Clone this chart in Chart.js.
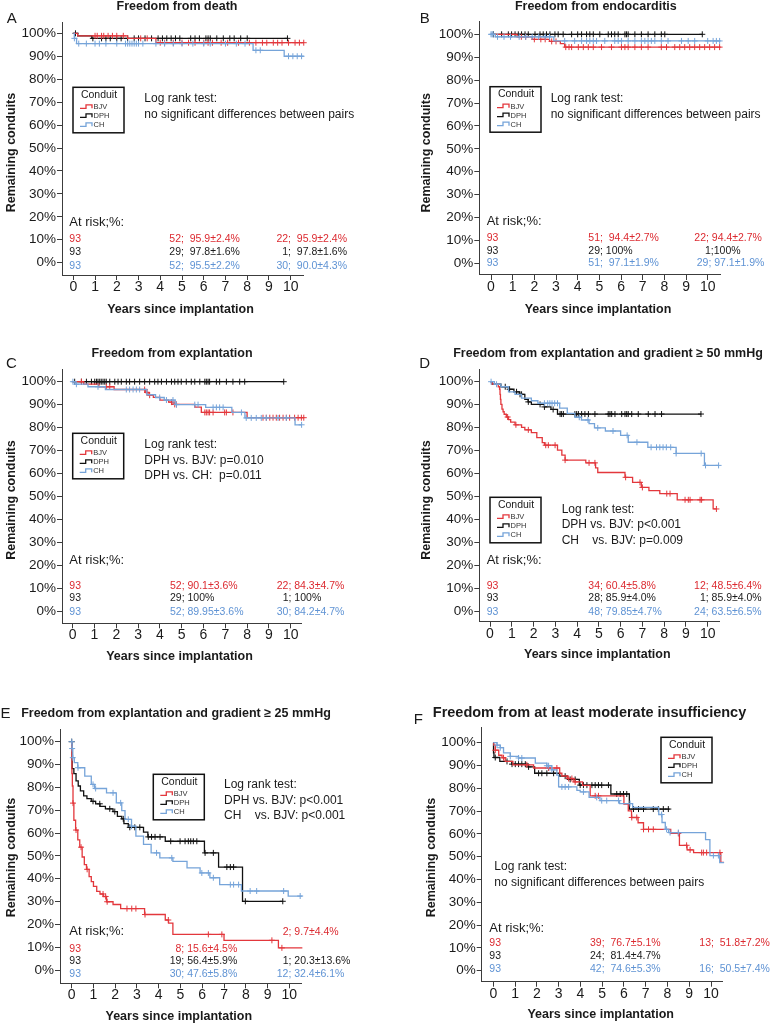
<!DOCTYPE html>
<html>
<head>
<meta charset="utf-8">
<script src="https://cdn.jsdelivr.net/npm/chart.js@4.4.1/dist/chart.umd.min.js"></script>
<style>
  html, body { margin: 0; padding: 0; background: #fff; }
  #page { position: relative; width: 771px; height: 1025px; overflow: hidden; }
  #page canvas { position: absolute; left: 0; top: 0; }
</style>
</head>
<body>
<div id="page">
  <canvas id="cA" width="771" height="1025"></canvas>
  <canvas id="cB" width="771" height="1025"></canvas>
  <canvas id="cC" width="771" height="1025"></canvas>
  <canvas id="cD" width="771" height="1025"></canvas>
  <canvas id="cE" width="771" height="1025"></canvas>
  <canvas id="cF" width="771" height="1025"></canvas>
</div>
<script>
// ── DATA ──
// curves: [years, % remaining] at each step; censored: years of "+" marks
const conduits = ['BJV', 'DPH', 'CH'];
const xTicks = [0, 1, 2, 3, 4, 5, 6, 7, 8, 9, 10];
const yTicks = [0, 10, 20, 30, 40, 50, 60, 70, 80, 90, 100];
const atRiskStart = ['93', '93', '93'];

// A: freedom from death
const deathBJV = [[0,100],[0.2,98.9],[2.5,97.8],[3.8,95.9],[10.6,95.9]];
const deathDPH = [[0,100],[0.2,98.9],[0.85,97.8],[9.85,97.8]];
const deathCH  = [[0,100],[0.05,97.8],[0.15,95.5],[8.27,92.6],[9.7,90.0],[10.6,90.0]];
const deathBJVc = [1.0,1.1,1.3,1.4,1.6,1.8,2.0,2.3,3.1,3.4,4.0,4.2,4.6,5.0,5.3,5.6,6.0,6.2,6.4,6.8,7.1,7.6,8.1,8.4,8.7,8.9,9.2,9.4,9.6,9.9,10.2,10.4,10.6];
const deathDPHc = [0.1,0.9,1.3,1.5,1.7,2.0,2.2,2.5,2.8,3.0,3.3,3.6,3.9,4.1,4.3,4.5,4.7,4.9,5.4,5.6,5.8,6.1,6.2,6.3,6.6,6.9,7.2,7.4,7.7,8.0,9.85];
const deathCHc  = [0.05,0.25,0.6,1.0,1.2,1.5,2.0,2.4,2.5,2.6,2.7,2.8,2.9,3.0,3.2,3.8,4.2,4.6,5.0,5.5,6.0,6.3,7.0,7.5,7.9,8.4,8.6,9.9,10.1,10.3,10.5];
const deathAt5  = ['52;  95.9±2.4%', '29;  97.8±1.6%', '52;  95.5±2.2%'];
const deathAt10 = ['22;  95.9±2.4%', '1;  97.8±1.6%', '30;  90.0±4.3%'];
const deathLogRank = ['Log rank test:', 'no significant differences between pairs'];

// B: freedom from endocarditis
const endoBJV = [[0,100],[1.2,98.9],[1.9,97.8],[2.7,96.9],[3.2,95.9],[3.4,94.4],[10.6,94.4]];
const endoDPH = [[0,100],[9.75,100]];
const endoCH  = [[0,100],[0.2,98.9],[2.9,97.1],[10.6,97.1]];
const endoBJVc = [1.4,1.6,2.0,2.3,2.5,2.8,3.0,3.45,3.6,3.72,4.03,4.26,4.49,4.72,5.1,5.56,6.02,6.18,6.33,6.64,6.94,7.25,7.86,8.1,8.48,8.71,8.94,9.17,9.4,9.63,9.86,10.09,10.32,10.55];
const endoDPHc = [0.11,0.49,0.8,0.95,1.11,1.26,1.41,1.57,1.72,2.03,2.26,2.41,2.56,2.72,2.95,3.1,3.33,3.72,4.0,4.18,4.41,4.56,4.72,5.02,5.41,5.56,5.71,5.87,6.18,6.25,6.33,6.64,6.94,7.25,7.56,7.86,8.02,9.75];
const endoCHc  = [0.0,0.05,0.1,0.3,0.6,0.9,1.3,1.6,1.9,2.2,2.5,2.7,3.4,3.86,4.18,4.41,4.56,4.72,4.87,5.25,5.71,5.87,6.02,6.33,6.64,6.94,7.1,7.25,7.4,7.56,7.86,8.17,8.79,9.1,9.4,10.0,10.25,10.4,10.55];
const endoAt5  = ['51;  94.4±2.7%', '29; 100%', '51;  97.1±1.9%'];
const endoAt10 = ['22; 94.4±2.7%', '1;100%', '29; 97.1±1.9%'];
const endoLogRank = ['Log rank test:', 'no significant differences between pairs'];

// C: freedom from explantation
const explBJV = [[0,100],[0.5,98.9],[1.2,97.8],[1.9,96.6],[3.35,95.3],[3.5,94.1],[3.7,93.2],[4.0,92.0],[4.4,91.1],[4.6,90.1],[5.6,88.9],[5.9,86.6],[8.0,84.3],[10.6,84.3]];
const explDPH = [[0,100],[9.68,100]];
const explCH  = [[0,100],[0.1,98.9],[0.7,97.8],[1.5,96.6],[3.4,94.3],[3.8,93.1],[4.2,92.0],[4.7,90.0],[6.1,88.8],[7.3,86.6],[7.9,84.2],[10.2,81.2],[10.5,81.2]];
const explBJVc = [0.4,1.54,1.7,3.3,3.41,3.53,4.53,4.68,4.76,6.06,6.13,6.21,6.28,6.44,6.97,7.05,7.35,8.73,8.88,9.04,9.19,9.34,9.49,9.65,9.8,9.95,10.18,10.34,10.49,10.6];
const explDPHc = [0.09,0.4,0.63,0.86,1.01,1.09,1.16,1.24,1.31,1.39,1.47,1.54,1.7,1.93,2.08,2.23,2.46,2.61,2.84,3.07,3.3,3.53,3.76,3.91,4.07,4.3,4.53,4.68,4.83,4.98,5.21,5.44,5.6,5.83,6.06,6.13,6.21,6.28,6.59,6.74,7.05,7.35,7.66,7.89,9.68];
const explCHc  = [0.01,0.17,1.16,2.46,2.61,2.77,2.92,3.07,3.99,4.3,4.6,4.76,5.6,5.75,6.44,6.59,6.74,6.9,7.74,7.96,8.19,8.42,8.65,8.88,9.42,9.8,10.5];
const explAt5  = ['52; 90.1±3.6%', '29; 100%', '52; 89.95±3.6%'];
const explAt10 = ['22; 84.3±4.7%', '1; 100%', '30; 84.2±4.7%'];
const explLogRank = ['Log rank test:', 'DPH vs. BJV: p=0.010', 'DPH vs. CH:  p=0.011'];

// D: freedom from explantation and gradient >= 50 mmHg
const grad50BJV = [[0,100],[0.1,98.9],[0.38,97.8],[0.44,96.7],[0.46,94.5],[0.48,92.3],[0.5,90.1],[0.55,88.0],[0.6,86.9],[0.65,85.8],[0.75,84.6],[0.85,83.5],[0.95,82.4],[1.15,81.2],[1.45,80.1],[1.6,79.0],[1.9,77.8],[2.15,75.6],[2.4,73.4],[2.5,72.3],[3.1,70.2],[3.3,68.0],[3.45,65.8],[4.4,64.6],[4.85,62.4],[4.95,60.4],[6.2,58.3],[6.55,56.1],[6.95,53.9],[7.3,52.5],[7.8,51.2],[8.6,48.5],[10.25,44.5],[10.4,44.5]];
const grad50DPH = [[0,100],[0.1,98.9],[0.5,97.8],[0.85,96.7],[1.1,95.6],[1.35,94.5],[1.6,92.3],[1.75,91.2],[1.9,90.1],[2.5,89.0],[2.8,87.9],[3.1,85.9],[9.7,85.9]];
const grad50CH  = [[0,100],[0.2,98.9],[0.5,97.8],[0.85,95.6],[1.15,94.5],[1.45,92.8],[1.9,91.7],[2.2,90.6],[3.2,88.5],[3.55,86.2],[3.9,84.5],[4.2,83.3],[4.55,81.7],[4.8,79.85],[5.3,78.5],[6.0,76.6],[6.35,73.6],[7.25,71.4],[8.55,68.7],[9.85,63.5],[10.5,63.5]];
const grad50BJVc = [0.81,1.19,1.76,2.56,2.68,2.99,3.45,4.55,4.82,6.23,6.89,7.0,8.12,8.27,8.96,9.11,9.19,9.65,9.72,10.4];
const grad50DPHc = [0.7,0.9,1.22,1.38,1.45,1.76,2.3,2.5,2.9,3.22,3.29,3.37,3.9,3.98,4.06,4.21,4.36,4.52,4.82,5.43,5.51,5.59,5.74,6.05,6.2,6.28,6.35,6.51,6.81,7.27,7.58,7.88,9.69];
const grad50CHc  = [0.05,0.3,2.5,2.65,2.75,2.85,2.97,3.1,4.1,4.5,4.95,5.65,6.3,6.75,7.4,7.65,7.8,7.95,8.1,8.3,8.55,9.7,9.9,10.5];
const grad50At5  = ['34; 60.4±5.8%', '28; 85.9±4.0%', '48; 79.85±4.7%'];
const grad50At10 = ['12; 48.5±6.4%', '1; 85.9±4.0%', '24; 63.5±6.5%'];
const grad50LogRank = ['Log rank test:', 'DPH vs. BJV: p<0.001', 'CH    vs. BJV: p=0.009'];

// E: freedom from explantation and gradient >= 25 mmHg
const grad25BJV = [[0,100],[0.01,86.0],[0.03,80.6],[0.06,73.1],[0.1,65.6],[0.18,61.3],[0.28,57.0],[0.37,53.8],[0.48,49.5],[0.58,46.2],[0.68,44.1],[0.8,40.9],[0.9,38.7],[1.0,36.6],[1.15,34.4],[1.3,33.3],[1.45,32.2],[1.6,29.9],[1.9,28.7],[2.25,26.9],[3.35,24.3],[4.3,21.9],[4.45,20.5],[4.65,15.6],[7.0,13.0],[9.5,9.7],[10.6,9.7]];
const grad25DPH = [[0,100],[0.02,88.2],[0.1,86.0],[0.2,82.8],[0.3,80.6],[0.4,78.5],[0.55,76.3],[0.7,75.1],[0.9,73.9],[1.1,72.8],[1.3,71.7],[1.55,70.6],[1.9,69.4],[2.1,67.3],[2.3,66.2],[2.4,64.1],[2.6,62.5],[3.3,60.4],[3.5,58.3],[4.3,56.4],[6.1,51.3],[6.75,45.1],[7.85,30.1],[9.7,30.1]];
const grad25CH  = [[0,100],[0.02,97.0],[0.05,93.0],[0.12,90.8],[0.28,88.6],[0.6,84.9],[0.9,81.3],[1.05,79.5],[1.6,77.6],[2.05,73.2],[2.3,69.8],[2.45,66.0],[2.75,63.0],[2.95,58.6],[3.3,55.0],[3.65,51.3],[4.05,49.1],[4.65,47.6],[5.3,44.7],[5.9,42.5],[6.35,40.4],[6.8,37.4],[7.8,34.6],[9.95,32.4],[10.6,32.4]];
const grad25BJVc = [0.06,0.2,0.43,0.71,1.44,1.56,1.63,2.54,2.76,2.95,3.37,4.44,6.28,6.9,9.2,9.66];
const grad25DPHc = [0,0.98,1.29,1.75,1.98,2.37,2.67,2.9,3.13,3.52,3.67,3.83,4.06,4.55,4.98,5.21,5.36,5.47,5.59,5.75,6.13,6.51,7.13,7.29,7.44,7.98,9.7];
const grad25CHc  = [0.0,0.02,0.05,0.29,0.98,1.1,1.9,2.25,2.6,2.75,3.9,4.6,5.98,6.28,6.51,7.29,7.44,7.67,8.2,8.5,9.74,10.5];
const grad25At5  = ['8; 15.6±4.5%', '19; 56.4±5.9%', '30; 47.6±5.8%'];
const grad25At10 = ['2; 9.7±4.4%', '1; 20.3±13.6%', '12; 32.4±6.1%'];
const grad25LogRank = ['Log rank test:', 'DPH vs. BJV: p<0.001', 'CH    vs. BJV: p<0.001'];

// F: freedom from at least moderate insufficiency
const insuffBJV = [[0,100],[0.02,98.9],[0.09,96.7],[0.25,94.5],[0.4,93.4],[0.55,91.8],[0.9,90.3],[1.85,88.9],[3.05,86.6],[3.15,85.4],[3.4,84.3],[3.7,82.8],[4.1,81.3],[4.45,76.7],[6.0,73.1],[6.2,70.1],[6.35,67.2],[6.65,64.9],[6.9,62.0],[8.15,60.2],[8.55,55.0],[8.9,53.0],[9.2,51.8],[10.45,47.5],[10.6,47.5]];
const insuffDPH = [[0,100],[0.01,95.6],[0.03,93.5],[0.3,91.8],[0.85,90.6],[1.6,89.4],[1.9,86.6],[3.05,85.3],[3.4,83.9],[3.95,81.4],[5.4,77.5],[6.25,70.9],[8.1,70.9]];
const insuffCH  = [[0,100],[0.17,98.9],[0.32,97.8],[0.47,95.5],[0.78,94.0],[1.16,93.3],[1.93,91.0],[2.46,89.9],[2.69,88.1],[2.92,85.8],[3.0,80.6],[3.84,79.1],[3.99,78.4],[4.4,76.0],[4.9,74.6],[5.8,73.3],[6.4,71.6],[7.6,68.5],[7.75,65.0],[7.9,62.0],[8.05,60.6],[9.75,57.5],[9.95,50.5],[10.4,47.4],[10.6,47.4]];
const insuffBJVc = [0.09,0.47,1.54,2.54,2.92,3.46,3.61,3.76,4.68,4.83,6.36,6.59,6.9,7.13,7.35,8.5,8.88,9.04,9.57,9.65,9.8,10.41];
const insuffDPHc = [0.09,0.63,0.86,1.01,1.16,1.31,1.47,1.62,2.08,2.23,2.46,2.77,3.3,3.53,3.76,3.99,4.14,4.3,4.53,4.68,4.83,4.98,5.29,5.67,5.83,5.98,6.13,6.44,6.67,6.9,7.35,7.58,7.81,8.04];
const insuffCHc  = [0.17,0.32,0.78,1.16,1.31,2.46,2.54,2.69,3.15,3.3,3.46,4.14,4.75,4.98,5.21,5.75,6.28,7.73,7.96,8.12,8.5,10.11,10.34];
const insuffAt5  = ['39;  76.7±5.1%', '24;  81.4±4.7%', '42;  74.6±5.3%'];
const insuffAt10 = ['13;  51.8±7.2%', '', '16;  50.5±7.4%'];
const insuffLogRank = ['Log rank test:', 'no significant differences between pairs'];

// ── STYLE ──
const FONT = "'Liberation Sans', Arial, Helvetica, sans-serif";
const INK = '#1a1a1a';
const AXIS = '#3c3c3c';
const lineColors = ['#e3373c', '#111111', '#76a4d9'];   // BJV, DPH, CH
const textColors = ['#dc2a30', '#1a1a1a', '#5f93d4'];
const YW = 40, XH = 30;

// ── PANELS (layout only) ──
const panels = [
  { canvas: 'cA', letter: 'A', letterAt: [11.7, 18.7], title: 'Freedom from death', titleAt: [177, 7], titleSize: 12.5,
    curves: [deathBJV, deathDPH, deathCH], cens: [deathBJVc, deathDPHc, deathCHc],
    area: { l: 62, r: 303, t: 22, b: 275 }, cal: { x0: 73.3, x10: 290.7, y0: 262.7, y100: 33.3 },
    yTitleAt: [11.7, 152.5], xTitleAt: [180.5, 309.3], legendAt: [73, 87.3],
    logRank: deathLogRank, logRankAt: [144.3, 99], at5: deathAt5, at10: deathAt10,
    risk: { head: [69.3, 222], ys: [239.3, 252.3, 265.7], c1: 69.3, c2: [169.3, 169.3, 169.3], c2Align: 'left', c3: [347, 347, 347], c3Align: 'right' } },
  { canvas: 'cB', letter: 'B', letterAt: [424.7, 18.7], title: 'Freedom from endocarditis', titleAt: [595.8, 7], titleSize: 12.5,
    curves: [endoBJV, endoDPH, endoCH], cens: [endoBJVc, endoDPHc, endoCHc],
    area: { l: 479.3, r: 720, t: 21.7, b: 275 }, cal: { x0: 491, x10: 707.7, y0: 263.3, y100: 34.3 },
    yTitleAt: [426.7, 152.8], xTitleAt: [598, 309.3], legendAt: [490, 86.7],
    logRank: endoLogRank, logRankAt: [550.7, 99], at5: endoAt5, at10: endoAt10,
    risk: { head: [486.7, 221.7], ys: [237.7, 250.7, 263.3], c1: 486.7, c2: [588.3, 588.3, 588.3], c2Align: 'left', c3: [694.3, 705, 696.7], c3Align: 'left' } },
  { canvas: 'cC', letter: 'C', letterAt: [11.3, 364.3], title: 'Freedom from explantation', titleAt: [172, 353.3], titleSize: 12.5,
    curves: [explBJV, explDPH, explCH], cens: [explBJVc, explDPHc, explCHc],
    area: { l: 62, r: 301.7, t: 369.3, b: 623.3 }, cal: { x0: 72.7, x10: 290.7, y0: 611, y100: 381.7 },
    yTitleAt: [11.7, 500], xTitleAt: [179.5, 656.7], legendAt: [72.7, 433.3],
    logRank: explLogRank, logRankAt: [144.3, 445], at5: explAt5, at10: explAt10,
    risk: { head: [69.3, 560], ys: [585.7, 598.3, 611.7], c1: 69.3, c2: [170, 170, 170], c2Align: 'left', c3: [276.7, 282.7, 276.7], c3Align: 'left' } },
  { canvas: 'cD', letter: 'D', letterAt: [424.7, 364.3], title: 'Freedom from explantation and gradient \u2265 50 mmHg', titleAt: [608, 353.3], titleSize: 12.5,
    curves: [grad50BJV, grad50DPH, grad50CH], cens: [grad50BJVc, grad50DPHc, grad50CHc],
    area: { l: 479.3, r: 719.3, t: 369.3, b: 621.7 }, cal: { x0: 490, x10: 707.7, y0: 611, y100: 381.7 },
    yTitleAt: [426.7, 500], xTitleAt: [597.3, 655], legendAt: [490, 497.3],
    logRank: grad50LogRank, logRankAt: [561.7, 509.3], at5: grad50At5, at10: grad50At10,
    risk: { head: [486.7, 560], ys: [585.7, 598.3, 611.7], c1: 486.7, c2: [588.3, 588.3, 588.3], c2Align: 'left', c3: [761.7, 761.7, 761.7], c3Align: 'right' } },
  { canvas: 'cE', letter: 'E', letterAt: [5.5, 713.8], title: 'Freedom from explantation and gradient \u2265 25 mmHg', titleAt: [176, 714], titleSize: 12.5,
    curves: [grad25BJV, grad25DPH, grad25CH], cens: [grad25BJVc, grad25DPHc, grad25CHc],
    area: { l: 60, r: 301.7, t: 729.3, b: 983.3 }, cal: { x0: 71.7, x10: 289.3, y0: 970, y100: 741.7 },
    yTitleAt: [11.7, 857.5], xTitleAt: [178.8, 1016.7], legendAt: [153.3, 774.3],
    logRank: grad25LogRank, logRankAt: [224, 785], at5: grad25At5, at10: grad25At10,
    risk: { head: [69.3, 931.7], ys: [949, 961, 974.3], c1: 69.3, c2: [237.3, 237.3, 237.3], c2Align: 'right', c3: [282.7, 282.7, 276.7], c3Y: [931.7, 961, 974.3], c3Align: 'left' } },
  { canvas: 'cF', letter: 'F', letterAt: [418.3, 719.5], title: 'Freedom from at least moderate insufficiency', titleAt: [589.5, 713.3], titleSize: 14.5,
    curves: [insuffBJV, insuffDPH, insuffCH], cens: [insuffBJVc, insuffDPHc, insuffCHc],
    area: { l: 481.7, r: 722.3, t: 727.3, b: 981.7 }, cal: { x0: 493.3, x10: 711, y0: 970.7, y100: 742.7 },
    yTitleAt: [431.7, 857.5], xTitleAt: [600.7, 1015], legendAt: [661, 737.3],
    logRank: insuffLogRank, logRankAt: [494.3, 866.7], at5: insuffAt5, at10: insuffAt10,
    risk: { head: [489.3, 928.3], ys: [942.7, 956, 969], c1: 489.3, c2: [590, 590, 590], c2Align: 'left', c3: [699.3, 699.3, 699.3], c3Align: 'left' } }
];

// ── HELPERS ──
function valueAt(curve, t) {
  let v = curve[0][1];
  for (const [x, y] of curve) {
    if (x <= t) v = y; else break;
  }
  return v;
}

function put(ctx, str, x, y, size, opt = {}) {
  ctx.font = (opt.bold ? 'bold ' : '') + size + 'px ' + FONT;
  ctx.fillStyle = opt.color || INK;
  ctx.textAlign = opt.align || 'left';
  ctx.textBaseline = 'middle';
  ctx.fillText(str, x, y);
}

function drawLegend(ctx, x, y) {
  const w = 51, h = 45.5;
  ctx.fillStyle = '#fff';
  ctx.fillRect(x, y, w, h);
  ctx.strokeStyle = '#111';
  ctx.lineWidth = 1.5;
  ctx.strokeRect(x, y, w, h);
  put(ctx, 'Conduit', x + w / 2 + 0.5, y + 7.5, 10.5, { align: 'center' });
  conduits.forEach((name, i) => {
    const cy = y + 19.5 + i * 9;
    ctx.strokeStyle = lineColors[i];
    ctx.lineWidth = 1.3;
    ctx.beginPath();
    ctx.moveTo(x + 7, cy + 1.5);
    ctx.lineTo(x + 13, cy + 1.5);
    ctx.lineTo(x + 13, cy - 2);
    ctx.lineTo(x + 19, cy - 2);
    ctx.lineTo(x + 19, cy + 1.5);
    ctx.stroke();
    put(ctx, name, x + 20.5, cy + 0.5, 7.5, { color: '#333' });
  });
}

// ── DECOR: titles, legend box, log rank and at-risk table ──
function decor(p) {
  return {
    id: 'decor',
    afterDraw(chart) {
      const ctx = chart.ctx;
      ctx.save();
      put(ctx, p.letter, p.letterAt[0], p.letterAt[1], 15, { align: 'center' });
      put(ctx, p.title, p.titleAt[0], p.titleAt[1], p.titleSize, { bold: true, align: 'center' });
      put(ctx, 'Years since implantation', p.xTitleAt[0], p.xTitleAt[1], 12.5, { bold: true, align: 'center' });

      ctx.save();
      ctx.translate(p.yTitleAt[0], p.yTitleAt[1]);
      ctx.rotate(-Math.PI / 2);
      put(ctx, 'Remaining conduits', 0, 0, 12.5, { bold: true, align: 'center' });
      ctx.restore();

      drawLegend(ctx, p.legendAt[0], p.legendAt[1]);

      p.logRank.forEach((line, i) => {
        put(ctx, line, p.logRankAt[0], p.logRankAt[1] + i * 15.5, 12);
      });

      const r = p.risk;
      put(ctx, 'At risk;%:', r.head[0], r.head[1], 13);
      r.ys.forEach((y, i) => {
        const c = textColors[i];
        put(ctx, atRiskStart[i], r.c1, y, 10.5, { color: c });
        put(ctx, p.at5[i], r.c2[i], y, 10.5, { color: c, align: r.c2Align });
        put(ctx, p.at10[i], r.c3[i], r.c3Y ? r.c3Y[i] : y, 10.5, { color: c, align: r.c3Align });
      });
      ctx.restore();
    }
  };
}

// ── CHARTS ──
panels.forEach(p => {
  const { l, r, t, b } = p.area;
  const { x0, x10, y0, y100 } = p.cal;
  const ppx = (x10 - x0) / 10;
  const ppy = (y0 - y100) / 100;

  const datasets = [];
  [2, 0, 1].forEach(i => {   // CH, BJV, then DPH on top
    datasets.push({
      data: p.curves[i].map(([x, y]) => ({ x, y })),
      borderColor: lineColors[i],
      borderWidth: 1.3,
      stepped: true,
      pointRadius: 0,
      fill: false
    });
    datasets.push({
      data: p.cens[i].map(x => ({ x, y: valueAt(p.curves[i], x) })),
      showLine: false,
      pointStyle: 'cross',
      pointRadius: 3,
      pointBorderWidth: 1,
      pointBorderColor: lineColors[i],
      borderColor: lineColors[i]
    });
  });

  const axisCommon = {
    type: 'linear',
    grid: { display: true, drawOnChartArea: false, drawTicks: true, tickLength: 5, color: AXIS, lineWidth: 1 },
    border: { display: true, color: AXIS, width: 1 }
  };

  new Chart(document.getElementById(p.canvas), {
    type: 'line',
    data: { datasets },
    plugins: [decor(p)],
    options: {
      responsive: false,
      animation: false,
      devicePixelRatio: 1,
      clip: false,
      layout: {
        autoPadding: false,
        padding: { left: l - YW, right: 771 - r, top: t, bottom: 1025 - b - XH }
      },
      plugins: { legend: { display: false }, tooltip: { enabled: false }, title: { display: false } },
      scales: {
        x: {
          ...axisCommon,
          min: (l - x0) / ppx,
          max: (r - x0) / ppx,
          afterBuildTicks: ax => { ax.ticks = xTicks.map(v => ({ value: v })); },
          afterFit: ax => { ax.height = XH; },
          ticks: { color: INK, autoSkip: false, maxRotation: 0, padding: 0,
                   font: { family: FONT, size: 14, lineHeight: 1 }, callback: v => String(v) }
        },
        y: {
          ...axisCommon,
          min: (y0 - b) / ppy,
          max: (y0 - t) / ppy,
          afterBuildTicks: ax => { ax.ticks = yTicks.map(v => ({ value: v })); },
          afterFit: ax => { ax.width = YW; },
          ticks: { color: INK, autoSkip: false, padding: 1,
                   font: { family: FONT, size: 13.5 }, callback: v => v + '%' }
        }
      }
    }
  });
});
</script>
</body>
</html>
